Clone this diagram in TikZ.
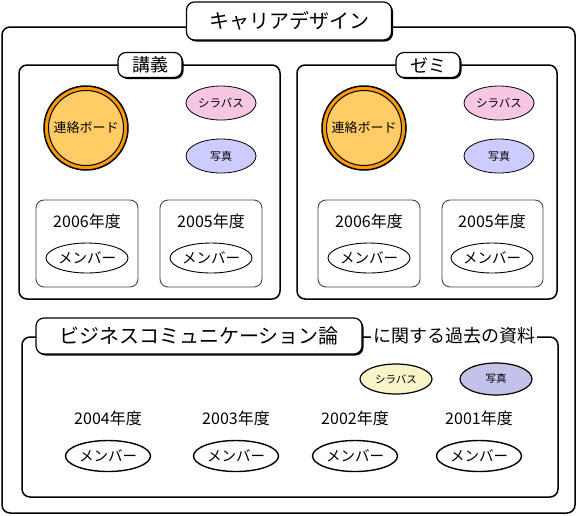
\documentclass[tikz,border=0pt]{standalone}
\usepackage{fontspec}
\setmainfont{Noto Sans CJK JP}
\usetikzlibrary{shapes.geometric,shadows}
\definecolor{pinkfill}{HTML}{F6C6E2}
\definecolor{lavfill}{HTML}{CCCCFF}
\definecolor{ringorange}{HTML}{FF9900}
\definecolor{discfill}{HTML}{FFCC66}
\definecolor{yelfill}{HTML}{F8F4C8}
\definecolor{lavdark}{HTML}{C2C2EA}
\definecolor{yearline}{HTML}{444444}
\begin{document}
\begin{tikzpicture}[x=1pt,y=-1pt,
  panel/.style={draw=black, line width=1.5pt, rounded corners=8pt},
  titlebox/.style={draw=black, line width=1.2pt, fill=white, rounded corners=8pt,
     general shadow={fill=black, shadow xshift=1.5pt, shadow yshift=-1.5pt},
     inner sep=0pt, align=center},
  yearbox/.style={draw=yearline, line width=0.9pt, rounded corners=8pt},
  yearlbl/.style={font=\fontsize{16}{16}\selectfont, inner sep=0pt},
  member/.style={ellipse, draw=black, line width=0.9pt, fill=white, minimum width=80pt, minimum height=30pt, inner sep=0pt, font=\fontsize{14.5}{14.5}\selectfont},
  memberb/.style={member, line width=1.4pt, minimum width=85pt, minimum height=31pt},
  small/.style={ellipse, draw=black, line width=0.8pt, minimum width=70pt, minimum height=34pt, inner sep=0pt},
]
\useasboundingbox (0,0) rectangle (577,515);
% outer
\draw[panel] (2,27) rectangle (575,513);
\node[titlebox, minimum width=205pt, minimum height=38pt, font=\fontsize{20}{20}\selectfont] (title) at (289,21) {キャリアデザイン};

% left panel
\draw[panel] (19,65) rectangle (280,299);
\node[titlebox, minimum width=64pt, minimum height=25pt, font=\fontsize{18}{18}\selectfont] (lec) at (150,65) {講義};
\node[circle, draw=black, line width=1.5pt, fill=ringorange, minimum size=84pt] (lring) at (86,128) {};
\node[circle, draw=black, line width=1pt, fill=discfill, minimum size=75pt, inner sep=0pt, font=\fontsize{13}{13}\selectfont] (lboard) at (lring.center) {連絡ボード};
\node[small, fill=pinkfill, font=\fontsize{11.5}{11.5}\selectfont] (lsyl) at (221,103) {シラバス};
\node[small, fill=lavfill, font=\fontsize{11}{11}\selectfont] (lpho) at (221,156) {写真};
\draw[yearbox] (36,200) rectangle (138,287);
\node[yearlbl] (l06) at (87,221) {2006年度};
\node[member] (l06m) at (87,258) {メンバー};
\draw[yearbox] (160,200) rectangle (262,287);
\node[yearlbl] (l05) at (211,221) {2005年度};
\node[member] (l05m) at (211,258) {メンバー};

% right panel
\draw[panel] (297,65) rectangle (557,299);
\node[titlebox, minimum width=64pt, minimum height=25pt, font=\fontsize{18}{18}\selectfont] (sem) at (428,65) {ゼミ};
\node[circle, draw=black, line width=1.5pt, fill=ringorange, minimum size=84pt] (rring) at (364,128) {};
\node[circle, draw=black, line width=1pt, fill=discfill, minimum size=75pt, inner sep=0pt, font=\fontsize{13}{13}\selectfont] (rboard) at (rring.center) {連絡ボード};
\node[small, fill=pinkfill, font=\fontsize{11.5}{11.5}\selectfont] (rsyl) at (499,103) {シラバス};
\node[small, fill=lavfill, font=\fontsize{11}{11}\selectfont] (rpho) at (499,156) {写真};
\draw[yearbox] (318,200) rectangle (420,287);
\node[yearlbl] (r06) at (369,221) {2006年度};
\node[member] (r06m) at (369,258) {メンバー};
\draw[yearbox] (442,200) rectangle (543,287);
\node[yearlbl] (r05) at (492,221) {2005年度};
\node[member] (r05m) at (492,258) {メンバー};

% bottom panel
\draw[panel] (22,337) rectangle (558,497);
\node[titlebox, minimum width=326pt, minimum height=36pt, font=\fontsize{20}{20}\selectfont] (bc) at (199,336) {ビジネスコミュニケーション論};
\node[fill=white, inner sep=2pt, font=\fontsize{18}{18}\selectfont] (past) at (454,336) {に関する過去の資料};
\node[small, fill=yelfill, line width=1.2pt, minimum width=72pt, minimum height=30pt, font=\fontsize{10.5}{10.5}\selectfont] (bsyl) at (396,379) {シラバス};
\node[small, fill=lavdark, line width=1.2pt, minimum width=72pt, minimum height=32pt, font=\fontsize{10.5}{10.5}\selectfont] (bpho) at (496,379) {写真};
\node[yearlbl] (b04) at (108,418) {2004年度};
\node[memberb] (b04m) at (108,456) {メンバー};
\node[yearlbl] (b03) at (236,418) {2003年度};
\node[memberb] (b03m) at (236,456) {メンバー};
\node[yearlbl] (b02) at (355,418) {2002年度};
\node[memberb] (b02m) at (355,456) {メンバー};
\node[yearlbl] (b01) at (479,418) {2001年度};
\node[memberb] (b01m) at (479,456) {メンバー};
\end{tikzpicture}
\end{document}
